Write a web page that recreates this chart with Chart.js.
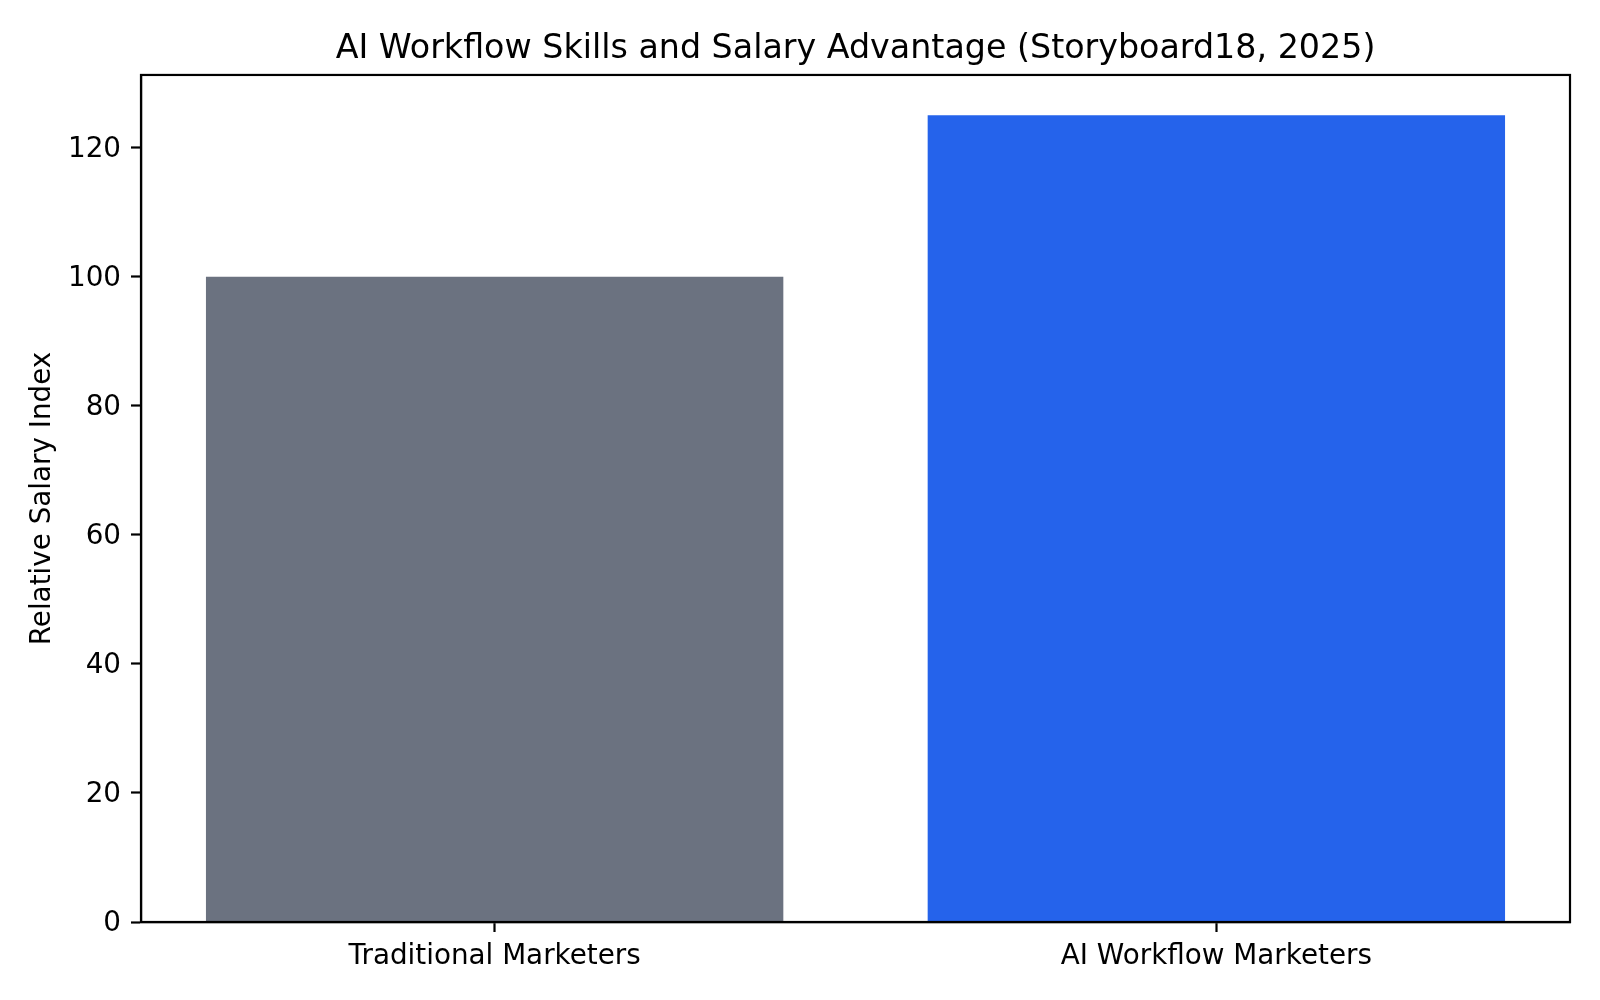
<!DOCTYPE html>
<html>
<head>
<meta charset="utf-8">
<script src="https://cdn.jsdelivr.net/npm/chart.js@4/dist/chart.umd.min.js"></script>
<style>
  html, body { margin: 0; padding: 0; background: #ffffff; }
  #wrap { width: 1600px; height: 1000px; }
</style>
</head>
<body>
<div id="wrap"><canvas id="salaryChart" width="1600" height="1000"></canvas></div>
<script>
// --- DATA ---
const categories = ['Traditional Marketers', 'AI Workflow Marketers'];
const salaryIndex = [100, 125];
const barColors = ['#6b7280', '#2563eb'];
const yTicks = [0, 20, 40, 60, 80, 100, 120];

// frame around the plot area (top and right spines too)
const frame = {
    id: 'frame',
    afterDatasetsDraw(chart) {
        const { ctx, chartArea: a } = chart;
        ctx.save();
        ctx.strokeStyle = '#000000';
        ctx.lineWidth = 2.2;
        ctx.strokeRect(a.left, a.top, a.right - a.left, a.bottom - a.top);
        ctx.restore();
    }
};

document.addEventListener('DOMContentLoaded', () => {
    const ctx = document.getElementById('salaryChart').getContext('2d');
    Chart.defaults.font.family = '"DejaVu Sans", sans-serif';
    Chart.defaults.color = '#000000';

    new Chart(ctx, {
        type: 'bar',
        data: {
            datasets: [{
                label: 'Relative Salary Index',
                data: categories.map((c, i) => ({ x: i, y: salaryIndex[i] })),
                backgroundColor: barColors,
                borderWidth: 0,
                categoryPercentage: 1.0,
                barPercentage: 0.8
            }]
        },
        options: {
            responsive: false,
            animation: false,
            devicePixelRatio: 1,
            layout: { padding: { left: 0, right: 30, top: 0, bottom: 0 } },
            plugins: {
                legend: { display: false },
                tooltip: { enabled: false },
                title: {
                    display: true,
                    fullSize: false, // centre over the plot area, like matplotlib
                    text: 'AI Workflow Skills and Salary Advantage (Storyboard18, 2025)',
                    color: '#000000',
                    font: { size: 33.3, weight: 'normal', lineHeight: 1.2 },
                    padding: { top: 29, bottom: 6 }
                }
            },
            scales: {
                x: {
                    type: 'linear',
                    min: -0.49,
                    max: 1.49,
                    offset: false,
                    afterBuildTicks: axis => { axis.ticks = categories.map((c, i) => ({ value: i })); },
                    afterFit: axis => { axis.height = 78; },
                    ticks: {
                        callback: v => categories[v],
                        font: { size: 27.8 },
                        padding: 8,
                        maxRotation: 0,
                        autoSkip: false
                    },
                    grid: { offset: false, drawOnChartArea: false, tickLength: 10, tickWidth: 2.2, tickColor: '#000000' },
                    border: { display: true, color: '#000000', width: 2.2 }
                },
                y: {
                    min: 0,
                    max: 131.25,
                    afterBuildTicks: axis => { axis.ticks = yTicks.map(v => ({ value: v })); },
                    afterFit: axis => { axis.width = 141; },
                    ticks: { font: { size: 27.8 }, padding: 10, labelOffset: 2 },
                    grid: { drawOnChartArea: false, tickLength: 10, tickWidth: 2.2, tickColor: '#000000' },
                    border: { display: true, color: '#000000', width: 2.2 },
                    title: {
                        display: true,
                        text: 'Relative Salary Index',
                        color: '#000000',
                        font: { size: 27.8, lineHeight: 1.2 },
                        padding: { top: 26, bottom: 0 }
                    }
                }
            }
        },
        plugins: [frame]
    });
});
</script>
</body>
</html>
